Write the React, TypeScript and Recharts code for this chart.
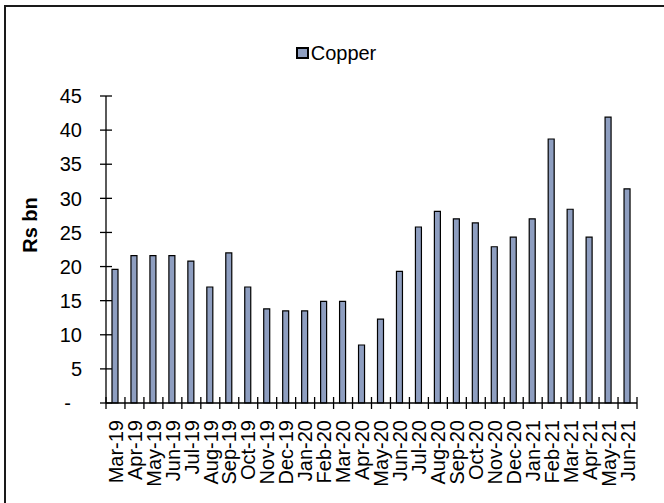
import { BarChart, Bar, XAxis, YAxis, Legend } from "recharts";

// Monthly copper values, Rs bn
const months = [
  "Mar-19", "Apr-19", "May-19", "Jun-19", "Jul-19", "Aug-19", "Sep-19",
  "Oct-19", "Nov-19", "Dec-19", "Jan-20", "Feb-20", "Mar-20", "Apr-20",
  "May-20", "Jun-20", "Jul-20", "Aug-20", "Sep-20", "Oct-20", "Nov-20",
  "Dec-20", "Jan-21", "Feb-21", "Mar-21", "Apr-21", "May-21", "Jun-21",
];
const copper = [
  19.6, 21.6, 21.6, 21.6, 20.8, 17.0, 22.0,
  17.0, 13.8, 13.5, 13.5, 14.9, 14.9, 8.5,
  12.3, 19.3, 25.8, 28.1, 27.0, 26.4, 22.9,
  24.3, 27.0, 38.7, 28.4, 24.3, 41.9, 31.4,
];
const yTicks = [0, 5, 10, 15, 20, 25, 30, 35, 40, 45];

const data = months.map((month, i) => ({ month, copper: copper[i] }));

const W = 664;
const H = 503;
const MARGIN = { top: 96, right: 27, bottom: 0, left: 0 };
const Y_WIDTH = 106;
const X_HEIGHT = 100;
const STEP = (W - MARGIN.right - Y_WIDTH) / months.length;

const FONT = "'Liberation Sans', Arial, sans-serif";
const BAR_FILL = "#8e9ec0";

// x ticks sit between categories and cross the axis line
const XTick = (props: any) => {
  const { x, y, payload, index } = props;
  const last = index === months.length - 1;
  return (
    <g>
      <line x1={x - STEP / 2} x2={x - STEP / 2} y1={y - 6} y2={y + 6} stroke="#000" strokeWidth={1.3} />
      {last && <line x1={x + STEP / 2} x2={x + STEP / 2} y1={y - 6} y2={y + 6} stroke="#000" strokeWidth={1.3} />}
      <text
        transform={`translate(${x},${y + 17}) rotate(-90)`}
        textAnchor="end"
        dy="0.36em"
        fontSize={20}
        fontFamily={FONT}
        fill="#000"
      >
        {payload.value}
      </text>
    </g>
  );
};

const YTick = (props: any) => {
  const { x, y, payload } = props;
  const zero = payload.value === 0;
  return (
    <g>
      <line x1={x - 6} x2={x + 6} y1={y} y2={y} stroke="#000" strokeWidth={1.3} />
      <text
        x={zero ? x - 35 : x - 24}
        y={y}
        dy="0.36em"
        textAnchor="end"
        fontSize={20}
        fontFamily={FONT}
        fill="#000"
      >
        {zero ? "-" : payload.value}
      </text>
    </g>
  );
};

const YLabel = () => (
  <text
    transform="translate(30,225) rotate(-90)"
    textAnchor="middle"
    dy="0.36em"
    fontSize={20}
    fontWeight="bold"
    fontFamily={FONT}
    fill="#000"
  >
    Rs bn
  </text>
);

const LegendBox = () => (
  <div
    style={{
      display: "flex",
      alignItems: "center",
      justifyContent: "center",
      paddingLeft: 8,
      fontFamily: FONT,
      fontSize: 20,
      color: "#000",
      lineHeight: "22px",
    }}
  >
    <span
      style={{
        display: "inline-block",
        width: 9,
        height: 8,
        background: BAR_FILL,
        border: "2px solid #000",
        marginRight: 2,
      }}
    />
    <span>Copper</span>
  </div>
);

export default function App() {
  return (
    <div
      style={{
        position: "absolute",
        left: 0,
        top: 0,
        width: W,
        height: H,
        overflow: "hidden",
        background: "#fff",
      }}
    >
      <div
        style={{
          position: "absolute",
          left: 4,
          top: 5,
          width: 800,
          height: 800,
          borderLeft: "2px solid #1a1a1a",
          borderTop: "2px solid #1a1a1a",
        }}
      />
      <div style={{ position: "absolute", left: 0, top: 0 }}>
        <BarChart width={W} height={H} data={data} margin={MARGIN}>
          <Legend
            layout="horizontal"
            align="center"
            verticalAlign="middle"
            wrapperStyle={{ top: 42, left: 0, width: W }}
            content={() => <LegendBox />}
          />
          <XAxis
            dataKey="month"
            height={X_HEIGHT}
            interval={0}
            tickSize={0}
            tickMargin={0}
            tickLine={false}
            axisLine={{ stroke: "#000", strokeWidth: 1.3 }}
            tick={<XTick />}
          />
          <YAxis
            width={Y_WIDTH}
            domain={[0, 45]}
            ticks={yTicks}
            interval={0}
            tickSize={0}
            tickMargin={0}
            tickLine={false}
            axisLine={{ stroke: "#000", strokeWidth: 1.3 }}
            tick={<YTick />}
            label={<YLabel />}
          />
          <Bar
            dataKey="copper"
            name="Copper"
            fill={BAR_FILL}
            stroke="#000"
            strokeWidth={1.2}
            barSize={6}
            isAnimationActive={false}
          />
        </BarChart>
      </div>
    </div>
  );
}
